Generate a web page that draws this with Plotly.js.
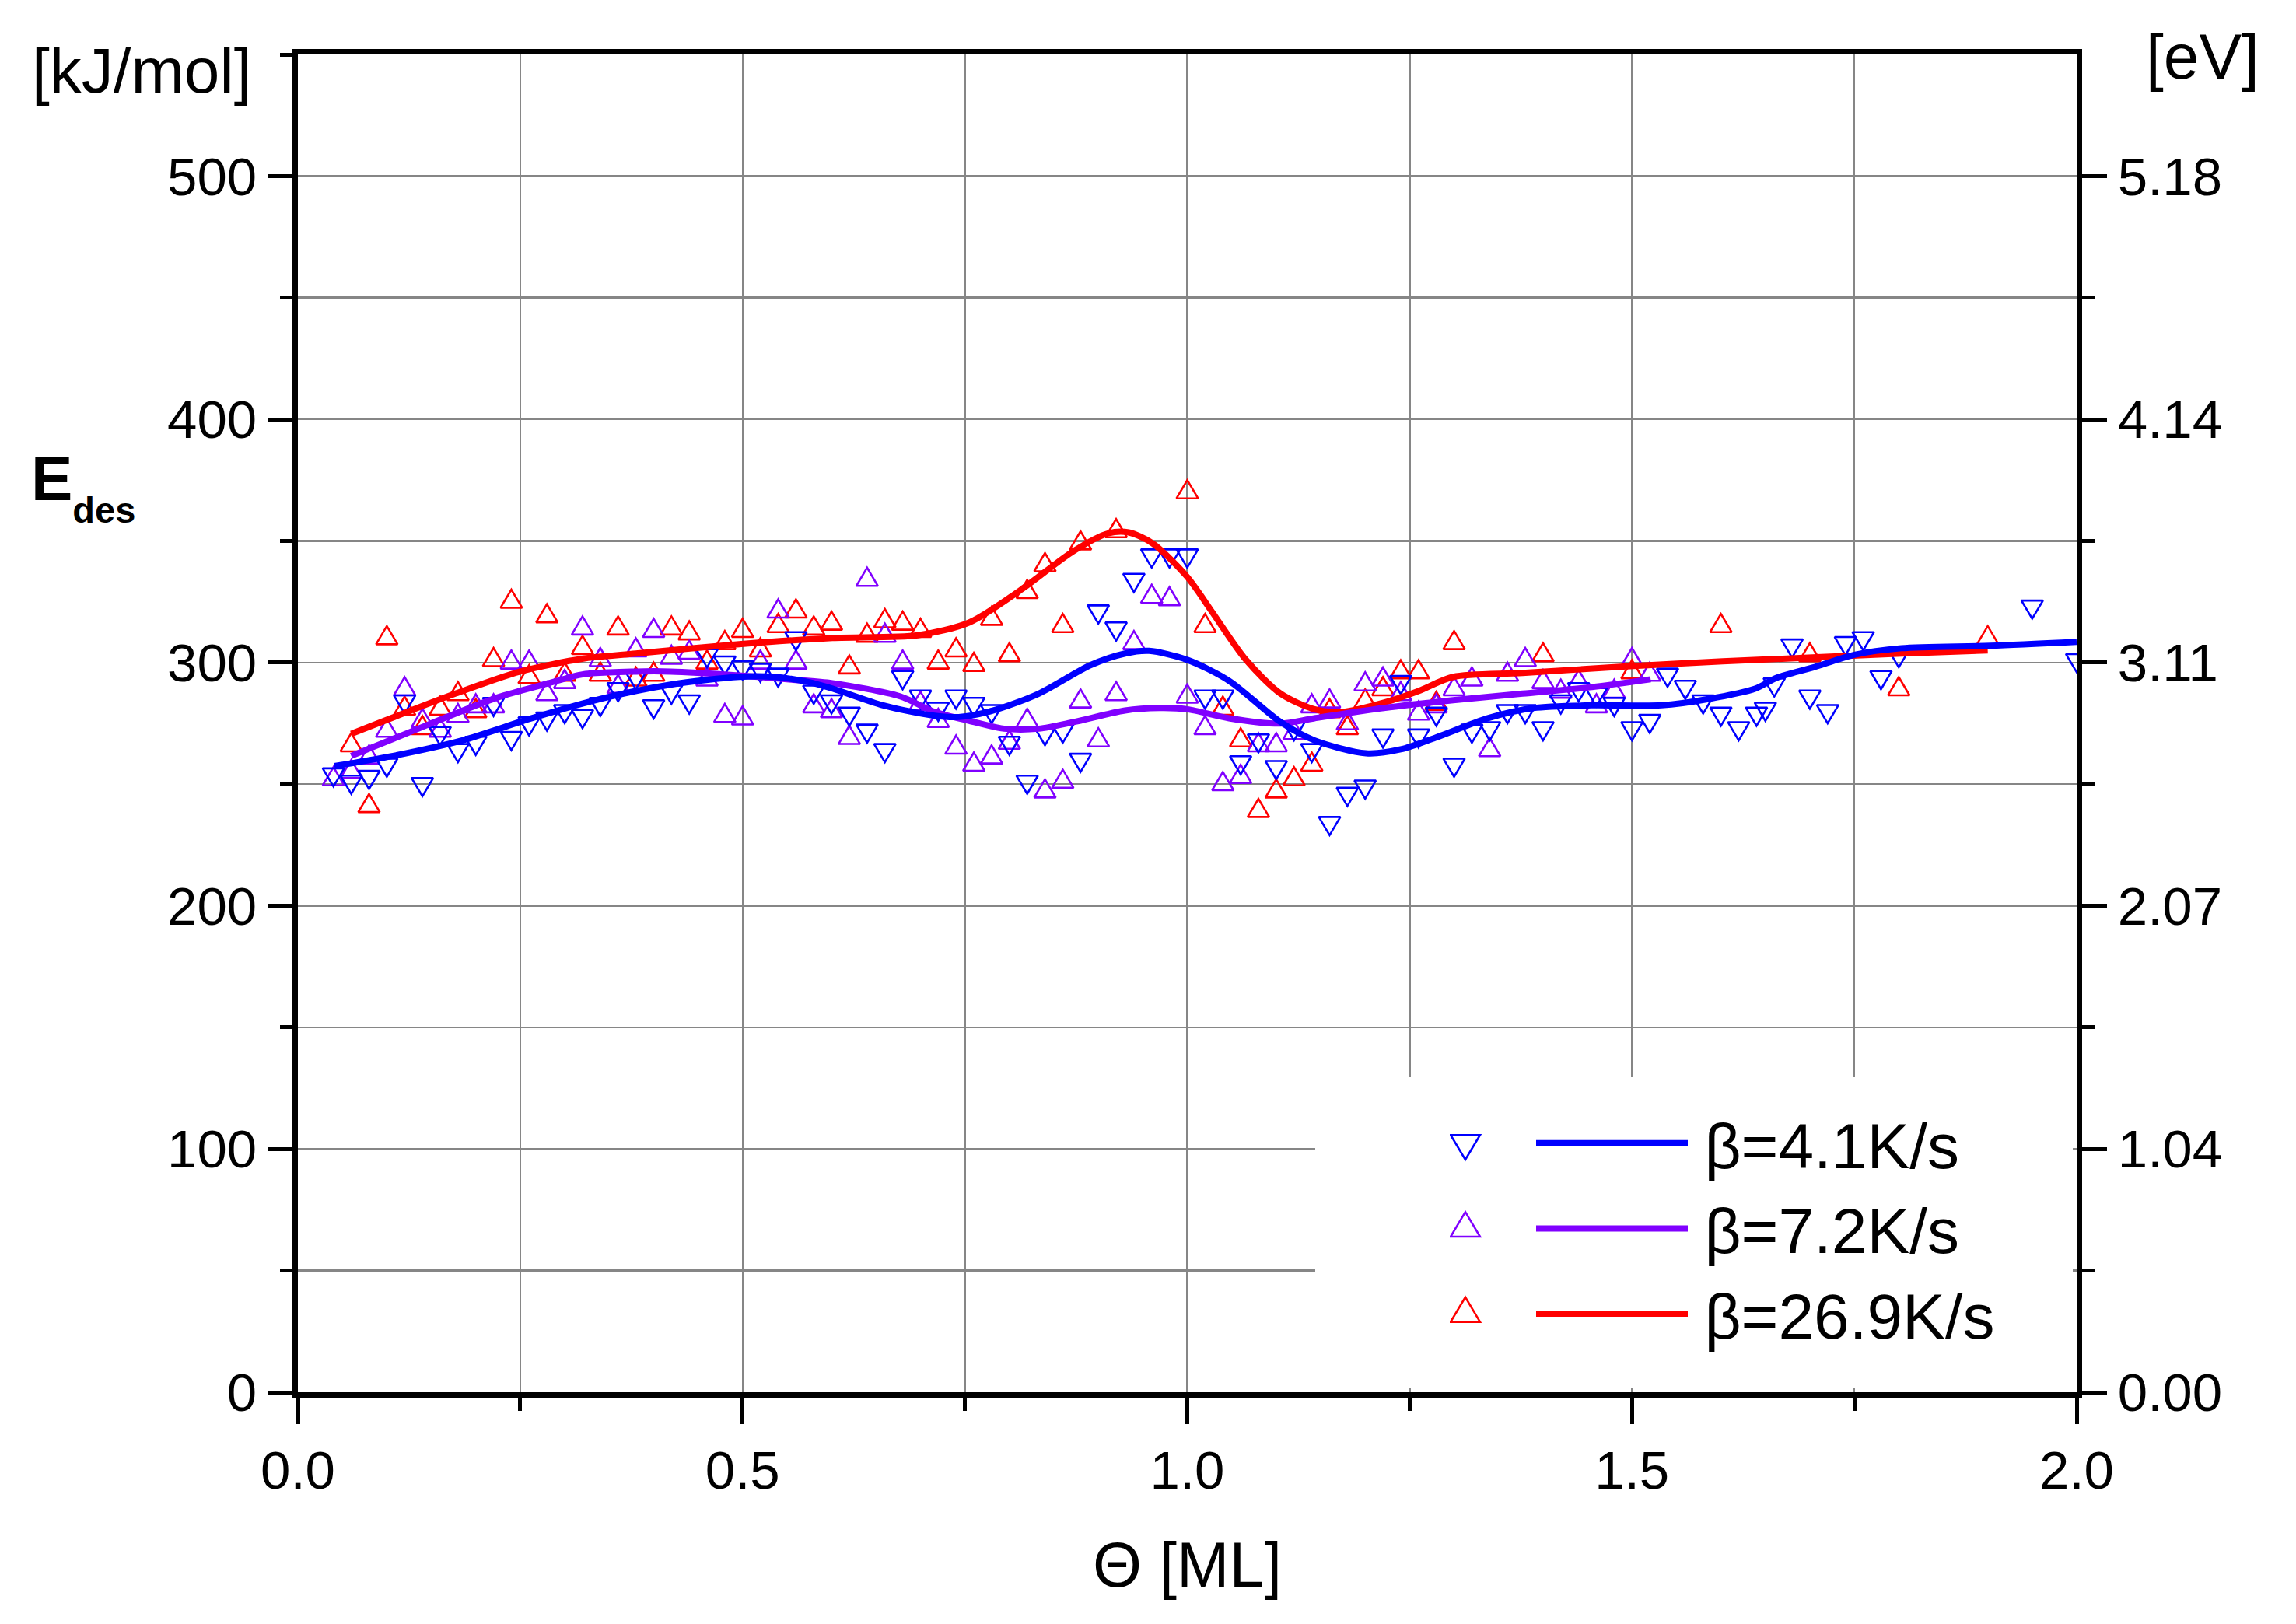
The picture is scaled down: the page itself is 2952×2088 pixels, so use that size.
<!DOCTYPE html>
<html><head><meta charset="utf-8">
<script src="https://cdn.plot.ly/plotly-3.0.1.min.js"></script>
<style>html,body{margin:0;padding:0;background:#fff}</style>
</head><body>
<div id="chart" style="width:2952px;height:2088px"></div>
<script>
// ---- data: coverage Theta [ML] and desorption energy E_des [kJ/mol] ----
const blueTheta = [0.04,0.06,0.08,0.10,0.12,0.14,0.16,0.18,0.20,0.22,
  0.24,0.26,0.28,0.30,0.32,0.34,0.36,0.38,0.40,0.42,
  0.44,0.46,0.48,0.50,0.52,0.54,0.56,0.58,0.60,0.62,
  0.64,0.66,0.68,0.70,0.72,0.74,0.76,0.78,0.80,0.82,
  0.84,0.86,0.88,0.90,0.92,0.94,0.96,0.98,1.00,1.02,
  1.04,1.06,1.08,1.10,1.12,1.14,1.16,1.18,1.20,1.22,
  1.24,1.26,1.28,1.30,1.32,1.34,1.36,1.38,1.40,1.42,
  1.44,1.46,1.48,1.50,1.52,1.54,1.56,1.58,1.60,1.62,
  1.64,1.65,1.66,1.68,1.70,1.72,1.74,1.76,1.78,1.80,
  1.95,2.00];
const blueE = [254,251,253,258,284,250,271,264,267,283,
  269,275,277,280,278,283,289,294,282,288,
  284,303,300,298,297,295,310,288,284,279,
  272,264,294,286,281,286,283,280,267,251,
  271,272,260,321,314,334,344,344,344,286,
  286,259,268,257,273,264,234,246,249,270,
  292,270,279,258,272,273,280,280,273,284,
  289,287,283,273,276,295,290,284,279,273,
  279,281,291,307,286,280,308,310,294,303,
  323,301];

const purpleTheta = [0.04,0.06,0.08,0.10,0.12,0.14,0.16,0.18,0.20,0.22,
  0.24,0.26,0.28,0.30,0.32,0.34,0.36,0.38,0.40,0.42,
  0.44,0.46,0.48,0.50,0.52,0.54,0.56,0.58,0.60,0.62,
  0.64,0.66,0.68,0.70,0.72,0.74,0.76,0.78,0.80,0.82,
  0.84,0.86,0.88,0.90,0.92,0.94,0.96,0.98,1.00,1.02,
  1.04,1.06,1.08,1.10,1.12,1.14,1.16,1.18,1.20,1.22,
  1.24,1.26,1.28,1.30,1.32,1.34,1.36,1.38,1.40,1.42,
  1.44,1.46,1.48,1.50,1.52];
const purpleE = [252,255,261,272,289,276,272,278,282,282,
  300,300,287,292,314,301,290,305,313,302,
  304,293,278,277,300,321,300,282,280,269,
  334,311,300,283,276,265,258,261,267,276,
  247,251,284,268,287,308,327,326,286,273,
  250,253,266,266,271,282,284,275,291,293,
  287,279,282,289,293,264,295,301,292,288,
  292,282,288,301,295];

const redTheta = [0.06,0.08,0.10,0.12,0.14,0.16,0.18,0.20,0.22,0.24,
  0.26,0.28,0.30,0.32,0.34,0.36,0.38,0.40,0.42,0.44,
  0.46,0.48,0.50,0.52,0.54,0.56,0.58,0.60,0.62,0.64,
  0.66,0.68,0.70,0.72,0.74,0.76,0.78,0.80,0.82,0.84,
  0.86,0.88,0.92,1.00,
  1.02,1.04,1.06,1.08,1.10,1.12,1.14,1.16,1.18,1.20,1.22,1.24,1.26,1.28,1.30,
  1.40,1.50,1.60,1.70,1.80,1.90];
const redE = [266,241,310,281,273,281,287,280,301,325,
  294,319,295,306,295,314,293,295,314,312,
  300,308,313,305,315,321,314,316,298,311,
  317,316,313,300,305,299,318,303,329,340,
  315,349,354,370,
  315,281,268,239,247,252,258,280,273,284,289,296,296,283,308,
  303,296,315,303,289,310];

// smoothed fit curves
const blueFitTheta = [0.041,0.107,0.185,0.263,0.341,0.419,0.496,0.535,0.574,0.601,0.658,0.716,0.743,0.782,0.833,0.891,0.930,0.957,1.000,1.047,1.105,1.143,1.201,1.240,1.279,1.338,1.389,1.455,1.533,1.586,1.639,1.662,1.703,1.750,1.803,1.903,2.000];
const blueFitE = [257.4,261.6,268.0,277.1,285.1,290.9,294.1,294.1,292.0,289.3,282.4,278.1,277.6,280.3,287.2,298.9,303.7,304.8,301.1,292.5,275.5,268.0,262.7,264.3,269.1,277.1,281.3,282.4,282.4,285.0,289.3,293.6,297.9,303.2,305.9,306.9,308.5];
const purpleFitTheta = [0.060,0.146,0.224,0.282,0.321,0.380,0.419,0.496,0.555,0.601,0.677,0.716,0.755,0.794,0.833,0.872,0.930,0.969,1.000,1.047,1.105,1.143,1.221,1.299,1.377,1.455,1.521];
const purpleFitE = [261.6,274.4,285.6,291.5,295.2,296.3,296.3,294.7,293.0,291.5,286.1,279.7,276.0,272.8,272.8,275.5,280.3,281.3,280.8,277.1,274.9,277.1,281.3,284.5,287.2,289.9,293.1];
const redFitTheta = [0.060,0.177,0.250,0.321,0.380,0.496,0.601,0.697,0.755,0.813,0.872,0.911,0.934,0.961,1.000,1.027,1.066,1.105,1.143,1.174,1.221,1.260,1.299,1.377,1.494,1.602,1.703,1.803,1.900];
const redFitE = [270.7,287.2,296.3,301.6,303.7,307.5,310.1,311.2,316.5,329.9,345.8,353.1,353.5,349.0,335.2,321.3,301.1,287.2,280.8,279.7,283.5,288.3,294.1,295.7,298.4,300.5,302.1,303.7,305.0];

const seriesNames = ['β=4.1K/s','β=7.2K/s','β=26.9K/s'];
const kjTicks = [0,100,200,300,400,500];
const eVLabels = ['0.00','1.04','2.07','3.11','4.14','5.18'];
const kjMinor = [50,150,250,350,450];

const BLUE='#0000ff', PURPLE='#8000ff', RED='#ff0000';
const FONT = 'Liberation Sans, Arial, Helvetica, sans-serif';
const GRID = '#868686';

function pts(x,y,color,symbol,rank){
  return {x:x,y:y,type:'scatter',mode:'markers',name:' ',legend:'legend2',legendrank:rank,
    marker:{symbol:symbol,size:24,color:color,line:{color:color,width:2.6}},
    hoverinfo:'skip'};
}
function fit(x,y,color,name,rank){
  return {x:x,y:y,yaxis:'y2',type:'scatter',mode:'lines',name:'\u2009'+name,legendrank:rank,
    line:{color:color,width:8,shape:'spline',smoothing:0.8},hoverinfo:'skip'};
}

const traces = [
  pts(redTheta,redE,RED,'triangle-up-open',3),
  pts(purpleTheta,purpleE,PURPLE,'triangle-up-open',2),
  pts(blueTheta,blueE,BLUE,'triangle-down-open',1),
  fit(redFitTheta,redFitE,RED,seriesNames[2],3),
  fit(purpleFitTheta,purpleFitE,PURPLE,seriesNames[1],2),
  fit(blueFitTheta,blueFitE,BLUE,seriesNames[0],1)
];

const L=383, T=70, W=2287, H=1720;
const px = v => (v-L)/W;
const py = v => (T+H-v)/H;

const axisCommon = {ticks:'outside', tickwidth:5, tickcolor:'#000',
  showline:true, linewidth:7, linecolor:'#000', zeroline:false,
  automargin:false, fixedrange:true};

const layout = {
  width:2952, height:2088,
  margin:{l:L, r:2952-L-W, t:T, b:2088-T-H, pad:0},
  paper_bgcolor:'#ffffff', plot_bgcolor:'#ffffff',
  font:{family:FONT, color:'#000'},
  showlegend:true,
  xaxis:Object.assign({}, axisCommon, {range:[0,2], dtick:0.5, tick0:0, tickformat:'.1f',
    ticklen:34, mirror:true,
    showgrid:true, gridcolor:GRID, gridwidth:2.5,
    minor:{dtick:0.25, tick0:0, ticks:'outside', ticklen:17, tickwidth:5, tickcolor:'#000',
      showgrid:true, gridcolor:GRID, gridwidth:2.5},
    tickfont:{size:69, family:FONT},
    title:{text:'Θ [ML]', font:{size:81, family:FONT}, standoff:58}}),
  yaxis:Object.assign({}, axisCommon, {range:[0,550], dtick:100, tick0:0, ticklen:32,
    showgrid:true, gridcolor:GRID, gridwidth:2.5,
    minor:{dtick:50, tick0:0, ticks:'outside', ticklen:16, tickwidth:5, tickcolor:'#000',
      showgrid:true, gridcolor:GRID, gridwidth:2.5},
    tickfont:{size:69, family:FONT}}),
  yaxis2:Object.assign({}, axisCommon, {range:[0,550], overlaying:'y', side:'right', anchor:'x',
    tickmode:'array', tickvals:kjTicks, ticktext:eVLabels, ticklen:32, showgrid:false,
    minor:{tickmode:'array', tickvals:kjMinor, ticks:'outside', ticklen:16, tickwidth:5, tickcolor:'#000', showgrid:false},
    tickfont:{size:69, family:FONT}}),
  legend:{x:px(1970), y:py(1410), xanchor:'left', yanchor:'top',
    bgcolor:'rgba(0,0,0,0)', borderwidth:0, font:{size:82, family:FONT},
    itemwidth:195, traceorder:'normal'},
  legend2:{x:px(1864), y:py(1410), xanchor:'left', yanchor:'top',
    bgcolor:'rgba(0,0,0,0)', borderwidth:0, font:{size:82, family:FONT},
    itemwidth:30, traceorder:'normal'},
  shapes:[{type:'rect', xref:'paper', yref:'paper', layer:'above',
    x0:px(1691), x1:px(2665), y0:py(1785), y1:py(1385),
    fillcolor:'#ffffff', line:{width:0}}],
  annotations:[
    {xref:'paper', yref:'paper', x:px(325), y:py(90), xanchor:'right', yanchor:'middle',
     text:'[kJ/mol]', showarrow:false, font:{size:82, family:FONT}},
    {xref:'paper', yref:'paper', x:px(2757), y:py(72), xanchor:'left', yanchor:'middle',
     text:'[eV]', showarrow:false, font:{size:82, family:FONT}},
    {xref:'paper', yref:'paper', x:px(38), y:py(626), xanchor:'left', yanchor:'middle',
     text:'<b>E<sub><sub><span style="font-size:47px">des</span></sub></sub></b>',
     showarrow:false, font:{size:80, family:FONT}}
  ]
};

Plotly.newPlot('chart', traces, layout, {staticPlot:true, displayModeBar:false}).then(function(gd){
  // make the open triangles as tall as the reference glyphs
  gd.querySelectorAll('.scatterlayer .trace .points path.point').forEach(function(p){
    p.setAttribute('transform', (p.getAttribute('transform')||'') + ' scale(1,1.3)');
    p.setAttribute('vector-effect','non-scaling-stroke');
  });
  gd.querySelectorAll('g.legend2 .legendpoints path').forEach(function(p){
    p.setAttribute('transform', (p.getAttribute('transform')||'') + ' scale(2.05,2.65)');
    p.setAttribute('vector-effect','non-scaling-stroke');
  });
  gd.querySelectorAll('g.legend2 text.legendtext').forEach(function(t){ t.remove(); });
  // drop zero-width helper tspans and empty placeholder text nodes
  gd.querySelectorAll('tspan').forEach(function(s){
    if(s.childElementCount === 0 && !s.textContent.replace(/[\u200b\s]/g,'')) s.remove();
  });
  gd.querySelectorAll('text').forEach(function(t){
    if(!t.textContent.replace(/[\u200b\s]/g,'')) t.remove();
  });
});
</script>
</body></html>
